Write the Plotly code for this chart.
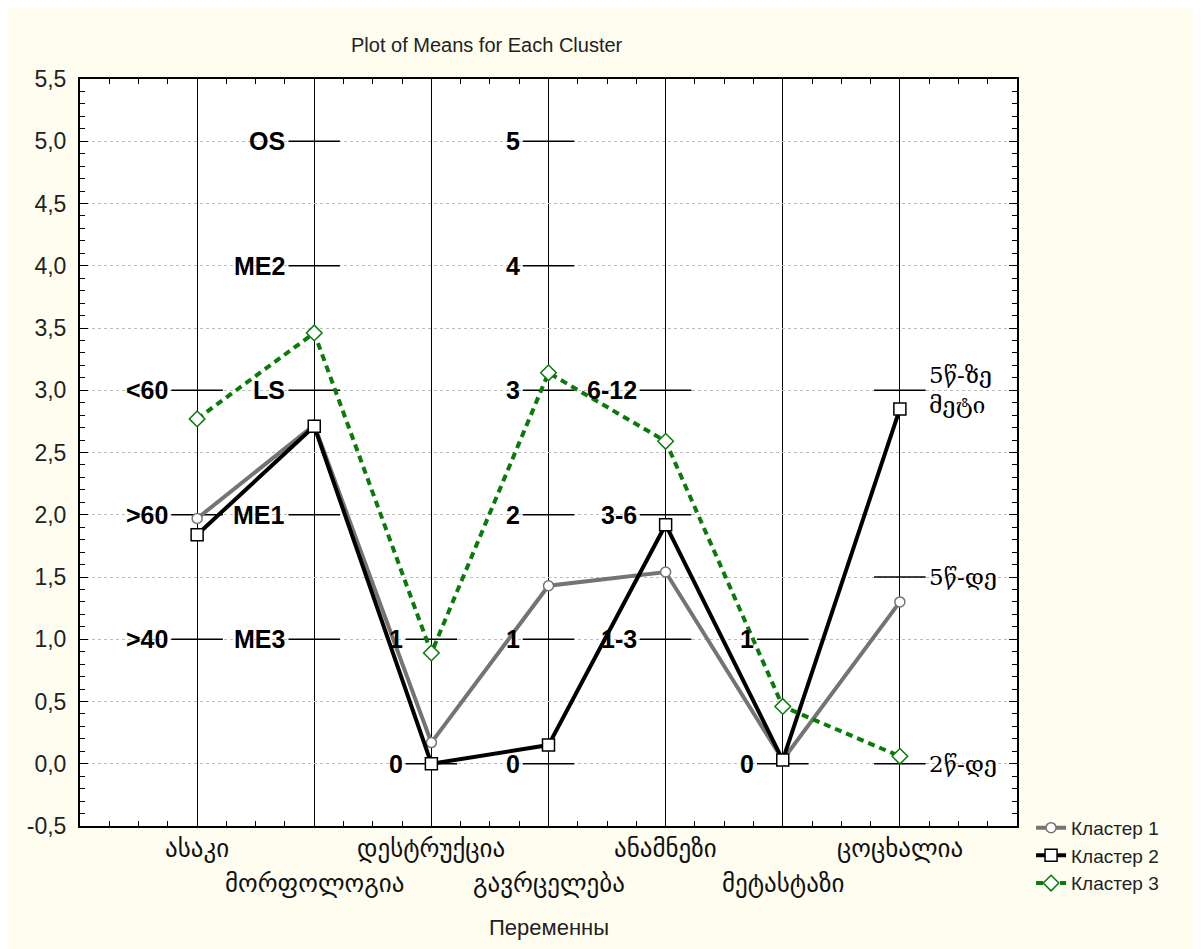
import plotly.graph_objects as go

# ---- data ----
categories = ["ასაკი", "მორფოლოგია", "დესტრუქცია", "გავრცელება",
              "ანამნეზი", "მეტასტაზი", "ცოცხალია"]
cluster1 = [1.97, 2.72, 0.17, 1.43, 1.54, 0.03, 1.30]
cluster2 = [1.84, 2.71, 0.00, 0.15, 1.92, 0.03, 2.85]
cluster3 = [2.77, 3.46, 0.89, 3.14, 2.59, 0.46, 0.06]
series_names = ["Кластер 1", "Кластер 2", "Кластер 3"]

y_tickvals = [-0.5, 0, 0.5, 1, 1.5, 2, 2.5, 3, 3.5, 4, 4.5, 5, 5.5]
y_ticktext = ["-0,5", "0,0", "0,5", "1,0", "1,5", "2,0", "2,5",
              "3,0", "3,5", "4,0", "4,5", "5,0", "5,5"]

# level markers drawn on each category line
level_cat = [0, 0, 0,
             1, 1, 1, 1, 1,
             2, 2,
             3, 3, 3, 3, 3, 3,
             4, 4, 4,
             5, 5,
             6, 6, 6]
level_val = [3, 2, 1,
             5, 4, 3, 2, 1,
             1, 0,
             5, 4, 3, 2, 1, 0,
             3, 2, 1,
             1, 0,
             3, 1.5, 0]
level_txt = ["<60", ">60", ">40",
             "OS", "ME2", "LS", "ME1", "ME3",
             "1", "0",
             "5", "4", "3", "2", "1", "0",
             "6-12", "3-6", "1-3",
             "1", "0",
             "5წ-ზე<br>მეტი", "5წ-დე", "2წ-დე"]

title_text = "Plot of Means for Each Cluster"
x_title = "Переменны"

# ---- figure ----
fig = go.Figure()

HALF = 0.22
seg_x, seg_y = [], []
for c, v in zip(level_cat, level_val):
    seg_x += [c - HALF, c + HALF, None]
    seg_y += [v, v, None]
fig.add_trace(go.Scatter(x=seg_x, y=seg_y, mode="lines",
                         line=dict(color="black", width=1.5),
                         showlegend=False, hoverinfo="skip"))

xs = list(range(len(categories)))
fig.add_trace(go.Scatter(
    x=xs, y=cluster1, name=series_names[0], mode="lines+markers",
    line=dict(color="#747474", width=4),
    marker=dict(symbol="circle", size=10, color="white",
                line=dict(color="#747474", width=1.5))))
fig.add_trace(go.Scatter(
    x=xs, y=cluster2, name=series_names[1], mode="lines+markers",
    line=dict(color="black", width=4),
    marker=dict(symbol="square", size=12, color="white",
                line=dict(color="black", width=1.5))))
fig.add_trace(go.Scatter(
    x=xs, y=cluster3, name=series_names[2], mode="lines+markers",
    line=dict(color="#0a7a0a", width=4, dash="7px,5px"),
    marker=dict(symbol="diamond", size=12, color="white",
                line=dict(color="#0a7a0a", width=1.5))))

annotations = []
for c, v, t in zip(level_cat, level_val, level_txt):
    if c == 6:
        annotations.append(dict(
            x=c + HALF, y=v, xref="x", yref="y", text=t, showarrow=False,
            xanchor="left", yanchor="middle", xshift=1, align="left",
            font=dict(family="DejaVu Serif, DejaVu Sans", size=23, color="black")))
    else:
        annotations.append(dict(
            x=c - HALF, y=v, xref="x", yref="y", text="<b>%s</b>" % t,
            showarrow=False, xanchor="right", yanchor="middle", xshift=-1,
            font=dict(family="Liberation Sans, Arial", size=25, color="black")))

for i, cat in enumerate(categories):
    annotations.append(dict(
        x=i, y=0, xref="x", yref="paper", text=cat, showarrow=False,
        xanchor="center", yanchor="middle",
        yshift=-22 if i % 2 == 0 else -57,
        font=dict(family="DejaVu Sans", size=25, color="#111")))

annotations.append(dict(
    x=3, y=0, xref="x", yref="paper", text=x_title, showarrow=False,
    xanchor="center", yanchor="middle", yshift=-101,
    font=dict(family="Liberation Sans, Arial", size=22, color="#222")))

W, H = 1193, 941
fig.update_layout(
    width=W, height=H,
    margin=dict(l=72, r=184, t=71, b=123),
    paper_bgcolor="#fefdf0",
    plot_bgcolor="white",
    title=dict(text=title_text, x=0.434, xref="paper", xanchor="center",
               y=1 - 37 / H, yref="container", yanchor="middle",
               font=dict(family="Liberation Sans, Arial", size=20, color="#222")),
    showlegend=True,
    legend=dict(x=1.015, xanchor="left", y=0.023, yanchor="top",
                bgcolor="rgba(0,0,0,0)",
                font=dict(family="Liberation Sans, Arial", size=19, color="#222"),
                tracegroupgap=0, itemwidth=30),
    annotations=annotations,
)

fig.update_xaxes(
    range=[-1, 7], tickvals=xs, ticktext=[""] * len(xs),
    showgrid=True, gridcolor="black", gridwidth=1,
    zeroline=False, showline=True, linecolor="black", linewidth=2, mirror="ticks",
    ticks="inside", ticklen=8, tickcolor="black",
    minor=dict(dtick=0.25, tick0=0, ticks="inside", ticklen=5, tickcolor="black",
               showgrid=False),
)
fig.update_yaxes(
    range=[-0.5, 5.5], tickvals=y_tickvals, ticktext=y_ticktext,
    showgrid=True, gridcolor="#bdbdbd", gridwidth=1, griddash="dot",
    zeroline=False, showline=True, linecolor="black", linewidth=2, mirror="ticks",
    ticks="inside", ticklen=8, tickcolor="black", ticklabelstandoff=7,
    tickfont=dict(family="Liberation Sans, Arial", size=23, color="#222"),
    minor=dict(dtick=0.1, tick0=0, ticks="inside", ticklen=5, tickcolor="black",
               showgrid=False),
)

fig.write_html("out.html")
